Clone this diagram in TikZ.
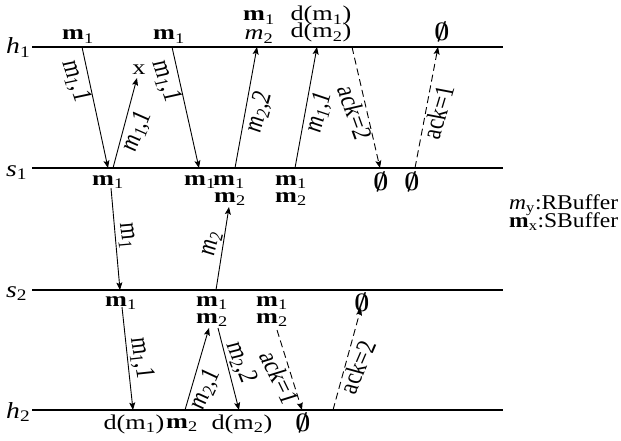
\documentclass[tikz,border=0pt]{standalone}
\usepackage{fontspec}
\setmainfont{Liberation Serif}
\usetikzlibrary{arrows.meta}
\newcommand\mB[1]{\textbf{m}\textsubscript{#1}}
\newcommand\mI[1]{\textit{m}\textsubscript{#1}}
\newcommand\nul{{\boldmath$\emptyset$}}
\begin{document}
\begin{tikzpicture}[x=1pt,y=-1pt,
  lab/.style={font=\fontsize{21}{18}\selectfont, xscale=1.25, inner sep=0pt, anchor=base},
  rlab/.style={font=\fontsize{22}{18}\selectfont, xscale=1.25, inner sep=1.5pt},
  lane/.style={line width=1.2pt},
  msg/.style={line width=0.9pt, -{Stealth[length=7.5pt,width=6pt,inset=1.5pt]}},
  ack/.style={msg, dash pattern=on 7pt off 4pt},
  proc/.style={font=\fontsize{23}{24}\selectfont, xscale=1.2, inner sep=0pt, anchor=base west},
  emp/.style={font=\fontsize{23}{22}\selectfont, xscale=1.05, inner sep=0pt, anchor=base},
  leg/.style={font=\fontsize{21}{18}\selectfont, xscale=1.12, inner sep=0pt, anchor=base west},
]
\useasboundingbox (0,0) rectangle (621,441);
% lanes
\coordinate (h1L) at (32,47);  \coordinate (h1R) at (503,47);
\coordinate (s1L) at (32,168); \coordinate (s1R) at (503,168);
\coordinate (s2L) at (32,290); \coordinate (s2R) at (503,290);
\coordinate (h2L) at (32,410); \coordinate (h2R) at (503,410);
\draw[lane] (h1L) -- (h1R);
\draw[lane] (s1L) -- (s1R);
\draw[lane] (s2L) -- (s2R);
\draw[lane] (h2L) -- (h2R);
\node[proc] (h1) at (6,54) {\textit{h}\textsubscript{1}};
\node[proc] (s1) at (6,176) {\textit{s}\textsubscript{1}};
\node[proc] (s2) at (6,297) {\textit{s}\textsubscript{2}};
\node[proc] (h2) at (6,418) {\textit{h}\textsubscript{2}};
% labels at h1
\node[lab] (t1) at (78,40) {\mB{1}};
\node[lab] (t2) at (169,40) {\mB{1}};
\node[lab] (t3a) at (259,21) {\mB{1}};
\node[lab] (t3b) at (259,40) {\mI{2}};
\node[lab] (t4a) at (321,21) {d(m\textsubscript{1})};
\node[lab] (t4b) at (321,38) {d(m\textsubscript{2})};
\node[emp] (t5) at (442,41) {\nul};
\node[lab] (x) at (139,75) {x};
% labels at s1
\node[lab] (s1a) at (108,185) {\mB{1}};
\node[lab] (s1b) at (200,185) {\mB{1}};
\node[lab] (s1c) at (229,185) {\mB{1}};
\node[lab] (s1c2) at (230,202) {\mB{2}};
\node[lab] (s1d) at (291,185) {\mB{1}};
\node[lab] (s1d2) at (291,202) {\mB{2}};
\node[emp] (s1e) at (381,190) {\nul};
\node[emp] (s1f) at (412,190) {\nul};
% labels at s2
\node[lab] (s2a) at (121,306) {\mB{1}};
\node[lab] (s2b) at (212,306) {\mB{1}};
\node[lab] (s2b2) at (212,323) {\mB{2}};
\node[lab] (s2c) at (272,306) {\mB{1}};
\node[lab] (s2c2) at (272,323) {\mB{2}};
\node[emp] (s2d) at (362,311) {\nul};
% labels at h2
\node[lab] (h2a) at (134,429) {d(m\textsubscript{1})};
\node[lab] (h2b) at (182,428) {\mB{2}};
\node[lab] (h2c) at (242,429) {d(m\textsubscript{2})};
\node[emp] (h2d) at (303,431) {\nul};
% legend
\node[leg] (leg1) at (509,209) {\mI{y}:RBuffer};
\node[leg] (leg2) at (509,227) {\mB{x}:SBuffer};
% message end points
\coordinate (a1s) at (82,47);   \coordinate (a1e) at (108,168);
\coordinate (a2s) at (113,168); \coordinate (a2e) at (137,78);
\coordinate (a3s) at (172,47);  \coordinate (a3e) at (199,168);
\coordinate (a4s) at (235,168); \coordinate (a4e) at (257,47);
\coordinate (a5s) at (295,168); \coordinate (a5e) at (317,47);
\coordinate (a6s) at (352,47);  \coordinate (a6e) at (380,168);
\coordinate (a7s) at (415,168); \coordinate (a7e) at (438,47);
\coordinate (a8s) at (111,188); \coordinate (a8e) at (120,290);
\coordinate (a9s) at (216,290); \coordinate (a9e) at (229,207);
\coordinate (a10s) at (122,307); \coordinate (a10e) at (133,410);
\coordinate (a11s) at (185,410); \coordinate (a11e) at (209,328);
\coordinate (a12s) at (218,328); \coordinate (a12e) at (239,410);
\coordinate (a13s) at (277,330); \coordinate (a13e) at (302,410);
\coordinate (a14s) at (333,410); \coordinate (a14e) at (361,308);
% messages
\draw[msg] (a1s) -- node[rlab, pos=0.26, rotate=-75.1, anchor=north] (l1) {m\textsubscript{1},1} (a1e);
\draw[msg] (a2s) -- node[rlab, pos=0.45, rotate=71.2, anchor=north] (l2) {\textit{m\textsubscript{1},1}} (a2e);
\draw[msg] (a3s) -- node[rlab, pos=0.26, rotate=-74.5, anchor=north] (l3) {m\textsubscript{1},1} (a3e);
\draw[msg] (a4s) -- node[rlab, pos=0.48, rotate=77.3, anchor=north] (l4) {\textit{m\textsubscript{2},2}} (a4e);
\draw[msg] (a5s) -- node[rlab, pos=0.48, rotate=77.3, anchor=north] (l5) {\textit{m\textsubscript{1},1}} (a5e);
\draw[ack] (a6s) -- node[rlab, pos=0.52, rotate=-74.0, anchor=north] (l6) {ack=2} (a6e);
\draw[ack] (a7s) -- node[rlab, pos=0.48, rotate=76.6, anchor=north] (l7) {ack=1} (a7e);
\draw[msg] (a8s) -- node[rlab, pos=0.48, rotate=-83.7, anchor=south] (l8) {m\textsubscript{1}} (a8e);
\draw[msg] (a9s) -- node[rlab, pos=0.54, rotate=78.9, anchor=south] (l9) {\textit{m\textsubscript{2}}} (a9e);
\draw[msg] (a10s) -- node[rlab, pos=0.51, rotate=-82.4, anchor=south] (l10) {m\textsubscript{1},1} (a10e);
\draw[msg] (a11s) -- node[rlab, pos=0.30, rotate=69.9, anchor=north] (l11) {\textit{m\textsubscript{2},1}} (a11e);
\draw[msg] (a12s) -- node[rlab, pos=0.46, rotate=-72.3, anchor=south] (l12) {m\textsubscript{2},2} (a12e);
\draw[ack] (a13s) -- node[rlab, pos=0.55, rotate=-68.7, anchor=north] (l13) {ack=1} (a13e);
\draw[ack] (a14s) -- node[rlab, pos=0.45, rotate=71.1, anchor=north] (l14) {ack=2} (a14e);
\end{tikzpicture}
\end{document}
